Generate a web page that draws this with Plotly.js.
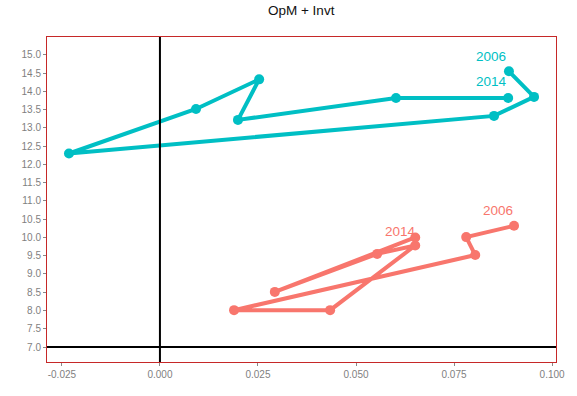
<!DOCTYPE html>
<html>
<head>
<meta charset="utf-8">
<script src="https://cdn.plot.ly/plotly-3.0.1.min.js"></script>
<style>html,body{margin:0;padding:0;background:#fff;}#chart{width:577px;height:396px;}</style>
</head>
<body>
<div id="chart"></div>
<script>
// Years for each point along the path (2006 -> 2014)
const years = [2006, 2007, 2008, 2009, 2010, 2011, 2012, 2013, 2014];

// Teal series (x = OpM, y = Invt)
const tealX = [0.0890, 0.0954, 0.0852, -0.0232, 0.0092, 0.0253, 0.0199, 0.0602, 0.0888];
const tealY = [14.55, 13.85, 13.33, 12.30, 13.52, 14.33, 13.22, 13.82, 13.82];

// Red series
const redX = [0.0903, 0.0781, 0.0804, 0.0189, 0.0434, 0.0651, 0.0554, 0.0293, 0.0651];
const redY = [10.32, 10.01, 9.52, 8.01, 8.01, 9.78, 9.55, 8.51, 10.00];

// Tick values / labels
const xTickVals = [-0.025, 0, 0.025, 0.05, 0.075, 0.1];
const xTickText = ["-0.025", "0.000", "0.025", "0.050", "0.075", "0.100"];
const yTickVals = [7, 7.5, 8, 8.5, 9, 9.5, 10, 10.5, 11, 11.5, 12, 12.5, 13, 13.5, 14, 14.5, 15];
const yTickText = yTickVals.map(v => v.toFixed(1));

const TEAL = "#00BFC4";
const RED = "#F8766D";

function pathTrace(x, y, color) {
  return {
    x: x, y: y, type: "scatter", mode: "lines+markers",
    line: {color: color, width: 4},
    marker: {color: color, size: 10},
    hoverinfo: "skip", showlegend: false
  };
}

const last = years.length - 1;
function label(x, y, text, color, ax, ay) {
  return {x: x, y: y, xref: "x", yref: "y", text: text, showarrow: true,
    arrowcolor: "rgba(0,0,0,0)", arrowwidth: 0.1, ax: ax, ay: ay,
    font: {family: "Liberation Sans, Arial, sans-serif", size: 13.5, color: color}};
}

const annotations = [
  label(tealX[0], tealY[0], String(years[0]), TEAL, -18, -15),
  label(tealX[last], tealY[last], String(years[last]), TEAL, -17, -16),
  label(redX[0], redY[0], String(years[0]), RED, -16, -15),
  label(redX[last], redY[last], String(years[last]), RED, -15, -6)
];

const layout = {
  width: 577, height: 396,
  margin: {l: 47, r: 21, t: 37, b: 34},
  paper_bgcolor: "#fff", plot_bgcolor: "#fff",
  font: {family: "Liberation Sans, Arial, sans-serif"},
  title: {text: "OpM + Invt", x: 0.522, xanchor: "center", y: 0.974, yanchor: "middle",
    font: {size: 13.5, color: "#111"}},
  xaxis: {range: [-0.0288, 0.1010], tickvals: xTickVals, ticktext: xTickText,
    showgrid: false, zeroline: false, showline: true, mirror: true,
    linecolor: "#c62828", linewidth: 1,
    ticks: "outside", ticklen: 3, tickcolor: "#888", tickwidth: 1,
    tickfont: {size: 10, color: "#7f7f7f"}},
  yaxis: {range: [6.59, 15.49], tickvals: yTickVals, ticktext: yTickText,
    showgrid: false, zeroline: false, showline: true, mirror: true,
    linecolor: "#c62828", linewidth: 1,
    ticks: "outside", ticklen: 3, tickcolor: "#888", tickwidth: 1,
    tickfont: {size: 10, color: "#7f7f7f"}},
  shapes: [
    {type: "line", xref: "x", yref: "paper", x0: 0, x1: 0, y0: 0, y1: 1,
      line: {color: "#000", width: 2}, layer: "above"},
    {type: "line", xref: "paper", yref: "y", x0: 0, x1: 1, y0: 7, y1: 7,
      line: {color: "#000", width: 2}, layer: "above"}
  ],
  annotations: annotations
};

Plotly.newPlot("chart", [pathTrace(tealX, tealY, TEAL), pathTrace(redX, redY, RED)], layout,
  {displayModeBar: false, staticPlot: true});
</script>
</body>
</html>
